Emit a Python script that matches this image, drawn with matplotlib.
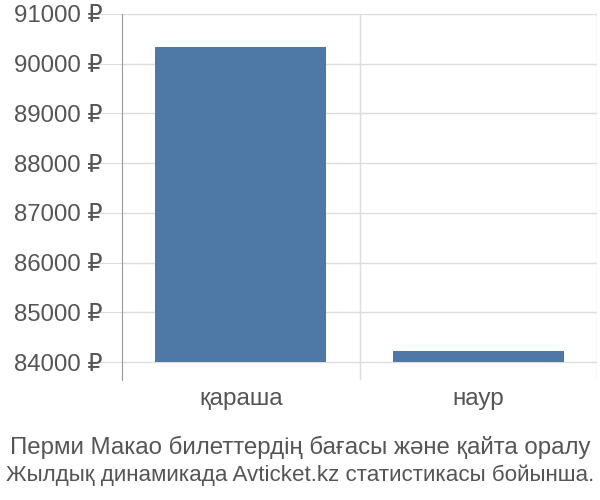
import matplotlib
matplotlib.use("Agg")
import matplotlib.pyplot as plt
from matplotlib.ticker import FuncFormatter, MultipleLocator

plt.rcParams['font.family'] = ['Liberation Sans', 'DejaVu Sans']

months = ['қараша', 'наур']
prices = [90330, 84220]
base = 84000
title_lines = ['Перми Макао билеттердің бағасы және қайта оралу',
               'Жылдық динамикада Avticket.kz статистикасы бойынша.']

text_col = '#555555'
grid_col = '#dddddd'

fig = plt.figure(figsize=(6, 5), dpi=100)
ax = fig.add_axes([122 / 600, 1 - 380 / 500, 475 / 600, 366 / 500])

x = list(range(len(months)))
ax.bar(x, [p - base for p in prices], bottom=base, width=0.72,
       color='#4e78a6', zorder=3)

ax.set_xlim(-0.5, 1.5)
ax.set_ylim(83638, 91000)
ax.yaxis.set_major_locator(MultipleLocator(1000))
ax.yaxis.set_major_formatter(FuncFormatter(lambda v, p: '%d ₽' % v))
ax.set_xticks(x)
ax.set_xticklabels(months)
ax.set_xticks([0.5, 1.5], minor=True)

ax.grid(axis='y', which='major', color=grid_col, lw=1, zorder=0)
ax.grid(axis='x', which='minor', color=grid_col, lw=1, zorder=0)

for s in ['top', 'right', 'bottom']:
    ax.spines[s].set_visible(False)
ax.spines['left'].set_color('#999999')

ax.tick_params(axis='y', length=20, color=grid_col, labelsize=17.3,
               labelcolor=text_col, pad=-6)
ax.tick_params(axis='x', which='both', length=0, labelsize=17.5,
               labelcolor=text_col, pad=6)

fig.text(0.5, 1 - 447 / 500, title_lines[0], ha='center', va='center',
         fontsize=17.3, color=text_col)
fig.text(0.5, 1 - 475 / 500, title_lines[1], ha='center', va='center',
         fontsize=16.1, color=text_col)

fig.savefig('out.png', dpi=100)
